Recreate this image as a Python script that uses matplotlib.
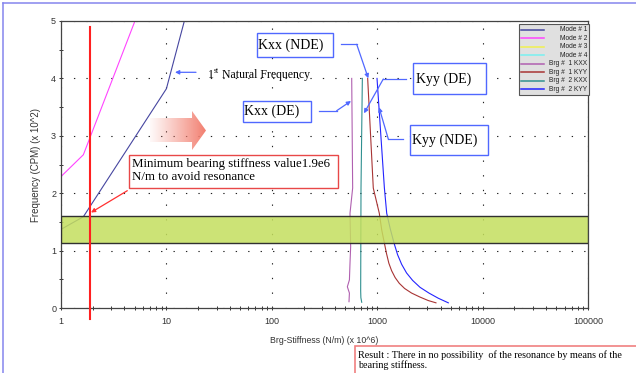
import numpy as np
import matplotlib
matplotlib.use('Agg')
import matplotlib.pyplot as plt
from matplotlib.patches import Rectangle, Polygon

# Data (x: bearing stiffness x 10^6 N/m, y: frequency x 10^2 CPM)
mode1_k = [1, 1.63, 10, 14.8]
mode1_f = [1.37, 1.59, 3.82, 5.0]
mode2_k = [1, 1.63, 5.03]
mode2_f = [2.29, 2.67, 5.0]
mode3_k, mode3_f = [], []   # off scale
mode4_k, mode4_f = [], []   # off scale
brg1_kxx_k = [573, 585, 552, 560, 552, 545, 521, 545, 540]
brg1_kxx_f = [4.0, 2.09, 1.65, 1.07, 0.78, 0.49, 0.37, 0.26, 0.11]
brg1_kyy_k = [812, 918, 1047, 1104, 1170, 1225, 1290, 1370, 1480, 1620, 1820, 2120, 2550, 3050, 3610]
brg1_kyy_f = [4.0, 2.09, 1.65, 1.36, 1.13, 0.95, 0.78, 0.65, 0.53, 0.43, 0.34, 0.26, 0.19, 0.13, 0.09]
brg2_kxx_k = [723, 702, 697, 700, 713]
brg2_kxx_f = [4.0, 2.09, 0.3, 0.18, 0.1]
brg2_kyy_k = [996, 1170, 1231, 1330, 1445, 1560, 1707, 1900, 2170, 2550, 3100, 3800, 4730]
brg2_kyy_f = [4.0, 2.09, 1.65, 1.38, 1.13, 0.93, 0.76, 0.61, 0.48, 0.36, 0.26, 0.17, 0.09]

series_names = ['Mode # 1', 'Mode # 2', 'Mode # 3', 'Mode # 4',
                'Brg #  1 KXX', 'Brg #  1 KYY', 'Brg #  2 KXX', 'Brg #  2 KYY']
series_k = [mode1_k, mode2_k, mode3_k, mode4_k, brg1_kxx_k, brg1_kyy_k, brg2_kxx_k, brg2_kyy_k]
series_f = [mode1_f, mode2_f, mode3_f, mode4_f, brg1_kxx_f, brg1_kyy_f, brg2_kxx_f, brg2_kyy_f]
series_colors = ['#4646a0', '#ff44ff', '#f0f050', '#78f0f0',
                 '#b060b0', '#a83434', '#309090', '#2424ff']

band_lo, band_hi = 1.13, 1.61      # running speed band
min_k = 1.88                       # minimum bearing stiffness
x_ticks = [1, 10, 100, 1000, 10000, 100000]
x_labels = ['1', '10', '100', '1000', '10000', '100000']
y_ticks = [0, 1, 2, 3, 4, 5]

W, H = 636, 373
fig = plt.figure(figsize=(W / 100, H / 100), dpi=100)
ax = fig.add_axes([61 / W, 65 / H, 527 / W, 287 / H])

for k, f, c in zip(series_k, series_f, series_colors):
    ax.plot(k, f, color=c, lw=0.8, zorder=2)

ax.axhspan(band_lo, band_hi, facecolor=(0.77, 0.875, 0.37, 0.85),
           edgecolor='#303030', lw=1.0, zorder=3)
ax.plot([min_k, min_k], [-0.19, 4.9], color='#ff2020', lw=1.5, zorder=4, clip_on=False)

ax.set_xscale('log')
ax.set_xlim(1, 100000)
ax.set_ylim(0, 5)
ax.set_xticks(x_ticks)
ax.set_xticklabels(x_labels)
ax.set_yticks(y_ticks)
ax.set_yticks(np.arange(0.5, 5, 1.0), minor=True)
ax.tick_params(which='both', labelsize=6.5, colors='#333333', length=3, width=0.7,
               direction='inout')
ax.tick_params(axis='y', pad=2)
ax.tick_params(axis='x', pad=5)
for lab in ax.get_xticklabels() + ax.get_yticklabels():
    lab.set_family('Liberation Sans')
ax.xaxis.grid(True, which='major', color='#222222', lw=0.8, linestyle=(0, (1.2, 12)))
ax.yaxis.grid(True, which='major', color='#222222', lw=0.8, linestyle=(0, (1.2, 10)))
for s in ax.spines.values():
    s.set_color('#444444')
    s.set_linewidth(0.9)
ax.set_xlabel('Brg-Stiffness (N/m) (x 10^6)', fontsize=6.3, family='Liberation Sans',
              color='#333333', labelpad=7)
ax.set_ylabel('Frequency (CPM) (x 10^2)', fontsize=7, family='Liberation Sans',
              color='#333333', labelpad=7)

# overlay in image pixel coordinates for the annotations
ov = fig.add_axes([0, 0, 1, 1], zorder=5)
ov.set_xlim(0, W)
ov.set_ylim(H, 0)
ov.axis('off')
ov.patch.set_alpha(0)

# outer frame
ov.plot([3.3, W], [3.3, 3.3], color='#8585ee', lw=1.1)
ov.plot([3.3, 3.3], [3.3, H], color='#8585ee', lw=1.1)

# legend
ov.add_patch(Rectangle((519, 24), 70, 71, facecolor='#e0e0e0', edgecolor='#555555', lw=0.8))
for i, (name, c) in enumerate(zip(series_names, series_colors)):
    y = 29.5 + i * 8.55
    ov.plot([521, 544], [y, y], color=c, lw=1.1)
    ov.text(587.5, y, name, ha='right', va='center', fontsize=4.8,
            family='Liberation Sans', color='#222222')

serif = 'Liberation Serif'
blue = '#5068ff'


def box(x0, y0, x1, y1, ec):
    ov.add_patch(Rectangle((x0, y0), x1 - x0, y1 - y0, facecolor='white', edgecolor=ec, lw=1.0))


def elbow(start, corner, tip, color):
    ov.plot([start[0], corner[0]], [start[1], corner[1]], color=color, lw=0.9)
    ov.annotate('', xy=tip, xytext=corner,
                arrowprops=dict(arrowstyle='-|>', color=color, lw=0.9, shrinkA=0, shrinkB=0,
                                mutation_scale=6))


# Kxx / Kyy labels
box(256.7, 32.7, 333.3, 57.3, blue)
ov.text(291, 45, 'Kxx (NDE)', ha='center', va='center', fontsize=10, family=serif)
elbow((340.7, 44.3), (356.7, 44.3), (368.3, 78.3), blue)

box(242.7, 100.7, 310.7, 121.7, blue)
ov.text(272, 111.5, 'Kxx (DE)', ha='center', va='center', fontsize=10, family=serif)
elbow((319.3, 110.7), (336.7, 110.7), (351, 101), blue)

box(413.3, 63.3, 485.7, 94, blue)
ov.text(444, 79, 'Kyy (DE)', ha='center', va='center', fontsize=10, family=serif)
elbow((406, 79), (383.3, 79), (364, 113.3), blue)

box(410, 125, 488.3, 155, blue)
ov.text(445, 140, 'Kyy (NDE)', ha='center', va='center', fontsize=10, family=serif)
elbow((402.7, 139), (388.3, 139), (379, 107.3), blue)

# 1st natural frequency
ov.text(208, 78, '1', fontsize=8.5, family=serif, va='baseline')
ov.text(213.5, 73, 'st', fontsize=5.5, family=serif, va='baseline')
ov.text(221.5, 78, 'Natural Frequency', fontsize=8.5, family=serif, va='baseline')
ov.annotate('', xy=(175, 72.3), xytext=(196, 72.3),
            arrowprops=dict(arrowstyle='-|>', color=blue, lw=0.9, shrinkA=0, shrinkB=0,
                            mutation_scale=6))

# gradient arrow
verts = [(150, 118), (192, 118), (192, 111), (206, 130.5), (192, 150), (192, 142), (150, 142)]
poly = Polygon(verts, closed=True, facecolor='none', edgecolor='none')
ov.add_patch(poly)
n = 64
grad = np.zeros((1, n, 4))
grad[..., 0] = 0.95
grad[..., 1] = 0.50
grad[..., 2] = 0.44
grad[..., 3] = np.linspace(0.06, 1.0, n) ** 1.1
im = ov.imshow(grad, extent=[150, 206, 150, 111], aspect='auto', interpolation='bilinear')
im.set_clip_path(poly)
ov.set_xlim(0, W)
ov.set_ylim(H, 0)

# minimum stiffness note
box(129.3, 155, 338, 188, '#e84848')
ov.text(132, 167.5, 'Minimum bearing stiffness value1.9e6', fontsize=9.3, family=serif,
        va='baseline')
ov.text(132, 180, 'N/m to avoid resonance', fontsize=9.3, family=serif, va='baseline')
ov.annotate('', xy=(91, 212.5), xytext=(127.3, 190.7),
            arrowprops=dict(arrowstyle='-|>', color='#ff3030', lw=0.9, shrinkA=0, shrinkB=0,
                            mutation_scale=6))

# result note
ov.add_patch(Rectangle((355, 345.7), 300, 40, facecolor='white', edgecolor='#f08080', lw=1.2,
                       clip_on=False))
ov.text(358.5, 357.5, 'Result : There in no possibility  of the resonance by means of the',
        fontsize=7.3, family=serif, va='baseline')
ov.text(358.5, 368, 'bearing stiffness.', fontsize=7.3, family=serif, va='baseline')

fig.savefig('out.png', dpi=100)
